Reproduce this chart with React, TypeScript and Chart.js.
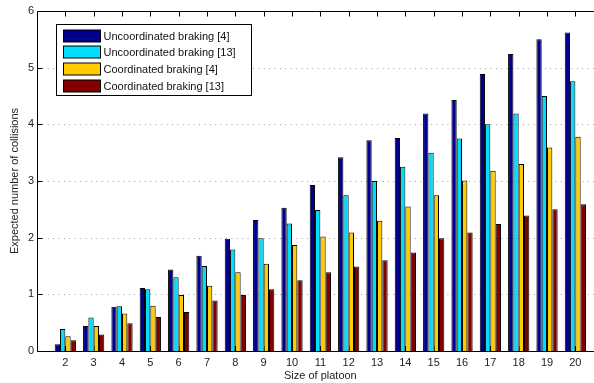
import React, { useEffect, useRef } from "react";
import { Chart, registerables } from "chart.js";

Chart.register(...registerables);

const platoonSizes = ["2","3","4","5","6","7","8","9","10","11","12","13","14","15","16","17","18","19","20"];
const uncoord4 = [0.12,0.44,0.78,1.11,1.44,1.68,1.98,2.31,2.53,2.93,3.42,3.72,3.76,4.19,4.43,4.89,5.24,5.5,5.62];
const uncoord13 = [0.39,0.59,0.79,1.09,1.3,1.5,1.79,1.99,2.25,2.49,2.75,3.0,3.25,3.5,3.75,4.0,4.19,4.5,4.76];
const coord4 = [0.26,0.44,0.66,0.8,0.99,1.15,1.39,1.54,1.87,2.02,2.09,2.3,2.55,2.75,3.01,3.18,3.3,3.59,3.78];
const coord13 = [0.19,0.29,0.49,0.6,0.69,0.89,0.99,1.09,1.25,1.39,1.49,1.6,1.74,1.99,2.09,2.24,2.39,2.5,2.59];
const yTicks = [0, 1, 2, 3, 4, 5, 6];

const seriesNames = ["Uncoordinated braking [4]", "Uncoordinated braking [13]", "Coordinated braking [4]", "Coordinated braking [13]"];
const seriesColors = ["#00008F", "#00DDFF", "#FFCC00", "#800000"];

const FONT = "'Liberation Sans', Arial, Helvetica, sans-serif";
// the plot box in the reference is cut by the right edge of the figure
const PLOT_WIDTH = 566.7;

const axesPlugin = {
  id: "matlabAxes",
  afterLayout(chart: any) {
    const x = chart.scales.x;
    const right = x.left + PLOT_WIDTH;
    x.right = right;
    x.width = right - x.left;
    x.configure();
    chart.chartArea.right = right;
    chart.chartArea.width = right - chart.chartArea.left;
  },
  beforeDatasetsDraw(chart: any) {
    const { ctx, chartArea: a, scales } = chart;
    const y = scales.y;
    const x = scales.x;
    ctx.save();
    ctx.strokeStyle = "#9a9a9a";
    ctx.lineWidth = 1;
    ctx.setLineDash([1, 4.4]);
    for (const v of yTicks) {
      if (v === yTicks[0] || v === yTicks[yTicks.length - 1]) continue;
      const py = Math.round(y.getPixelForValue(v)) + 0.5;
      ctx.beginPath();
      ctx.moveTo(a.left, py);
      ctx.lineTo(a.right, py);
      ctx.stroke();
    }
    ctx.setLineDash([]);
    ctx.strokeStyle = "#000";
    for (let i = 1; i <= platoonSizes.length; i++) {
      const px = Math.round(x.getPixelForValue(i)) + 0.5;
      ctx.beginPath();
      ctx.moveTo(px, a.bottom);
      ctx.lineTo(px, a.bottom - 5);
      ctx.stroke();
    }
    ctx.restore();
  },
  afterDatasetsDraw(chart: any) {
    const { ctx, chartArea: a, scales } = chart;
    const y = scales.y;
    const x = scales.x;
    ctx.save();
    ctx.strokeStyle = "#000";
    ctx.lineWidth = 1;
    const L = Math.round(a.left) + 0.5;
    const R = Math.round(a.right) + 0.5;
    const T = Math.round(a.top) + 0.5;
    const B = Math.round(a.bottom) + 0.5;
    ctx.beginPath();
    ctx.rect(L, T, R - L, B - T);
    ctx.stroke();
    for (let i = 1; i <= platoonSizes.length; i++) {
      const px = Math.round(x.getPixelForValue(i)) + 0.5;
      ctx.beginPath();
      ctx.moveTo(px, T);
      ctx.lineTo(px, T + 5);
      ctx.stroke();
    }
    for (const v of yTicks) {
      const py = Math.round(y.getPixelForValue(v)) + 0.5;
      ctx.beginPath();
      ctx.moveTo(L, py);
      ctx.lineTo(L + 5, py);
      ctx.moveTo(R, py);
      ctx.lineTo(R - 5, py);
      ctx.stroke();
    }
    // legend
    const bx = L + 19;
    const by = T + 13;
    const bw = 195;
    const bh = 71;
    ctx.fillStyle = "#fff";
    ctx.fillRect(bx, by, bw, bh);
    ctx.strokeRect(bx, by, bw, bh);
    ctx.font = "11px " + FONT;
    ctx.textBaseline = "middle";
    ctx.textAlign = "left";
    chart.data.datasets.forEach((ds: any, i: number) => {
      const sy = by + 5 + i * 16.7;
      ctx.fillStyle = ds.backgroundColor;
      ctx.fillRect(bx + 7, Math.round(sy), 37, 12);
      ctx.strokeRect(bx + 7, Math.round(sy), 37, 12);
      ctx.fillStyle = "#111";
      ctx.fillText(ds.label, bx + 47, Math.round(sy) + 6.5);
    });
    ctx.restore();
  },
};

export default function App() {
  const ref = useRef<HTMLCanvasElement | null>(null);
  useEffect(() => {
    document.body.style.margin = "0";
    document.body.style.overflow = "hidden";
    const canvas = ref.current!;
    const labels = ["", ...platoonSizes, ""];
    const pad = (arr: number[]) => [null, ...arr, null];
    const allSeries = [uncoord4, uncoord13, coord4, coord13];
    const chart = new Chart(canvas, {
      type: "bar",
      data: {
        labels,
        datasets: allSeries.map((s, i) => ({
          label: seriesNames[i],
          data: pad(s),
          backgroundColor: seriesColors[i],
          borderColor: "#000",
          borderWidth: 1,
          categoryPercentage: 0.75,
          barPercentage: 1,
        })),
      },
      options: {
        responsive: false,
        animation: false,
        devicePixelRatio: 1,
        layout: { padding: { left: 0, right: 0, top: 11, bottom: 0 } },
        plugins: { legend: { display: false }, tooltip: { enabled: false } },
        scales: {
          x: {
            type: "category",
            offset: false,
            grid: { display: false, drawTicks: false },
            border: { display: false },
            ticks: {
              autoSkip: false,
              maxRotation: 0,
              padding: 5,
              color: "#222",
              font: { family: FONT, size: 11 },
            },
            title: {
              display: true,
              text: "Size of platoon",
              color: "#222",
              font: { family: FONT, size: 11 },
              padding: { top: 0, bottom: 0 },
            },
            afterFit: (s: any) => { s.height = 32; },
          },
          y: {
            min: 0,
            max: 6,
            grid: { display: false, drawTicks: false },
            border: { display: false },
            ticks: {
              stepSize: 1,
              padding: 3,
              color: "#222",
              font: { family: FONT, size: 11 },
            },
            title: {
              display: true,
              text: "Expected number of collisions",
              color: "#222",
              font: { family: FONT, size: 11 },
              padding: { top: 8, bottom: 0 },
            },
            afterFit: (s: any) => { s.width = 37; },
          },
        },
      },
      plugins: [axesPlugin],
    } as any);
    return () => chart.destroy();
  }, []);
  return (
    <div style={{ width: 594, height: 383, overflow: "hidden", background: "#fff" }}>
      <canvas ref={ref} width={594} height={383} style={{ display: "block" }} />
    </div>
  );
}
